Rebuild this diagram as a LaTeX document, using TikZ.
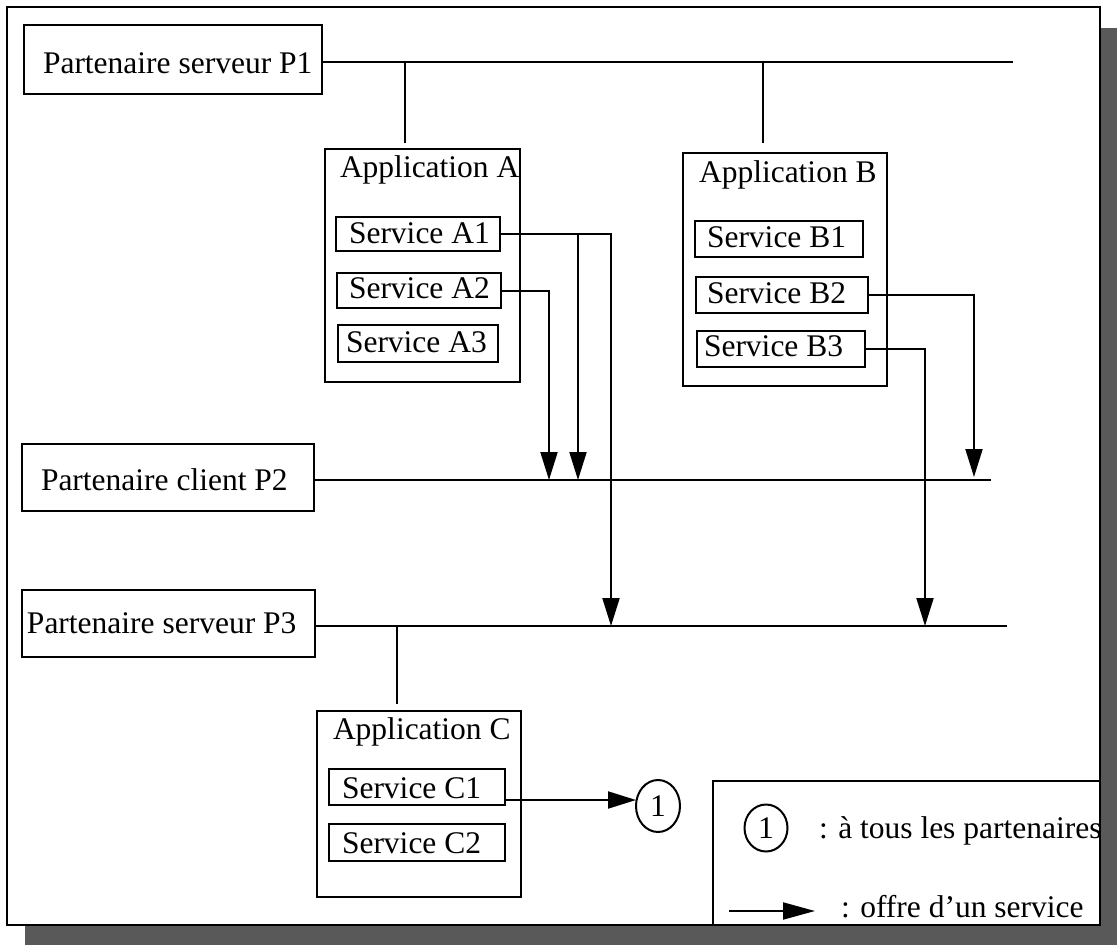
\documentclass[tikz,border=0pt]{standalone}
\usepackage{fontspec}
\setmainfont{Liberation Serif}
\usetikzlibrary{arrows.meta,shapes.geometric}
\begin{document}
\begin{tikzpicture}[x=1pt,y=-1pt,
  line width=2pt,
  box/.style={draw, rectangle, inner sep=0pt, outer sep=0pt, anchor=north west},
  txt/.style={anchor=base west, inner sep=0pt, font=\fontsize{31.5}{36}\selectfont},
  offer/.style={-{Triangle[length=28pt,width=17pt]}},
  ball/.style={draw, ellipse, inner sep=0pt, outer sep=0pt, font=\fontsize{31.5}{36}\selectfont}]
\useasboundingbox (0,0) rectangle (1117,945);

% drop shadow and sheet
\fill[black!65] (1100,28) rectangle (1117,945);
\fill[black!65] (25,925) rectangle (1117,945);
\draw[fill=white] (7,7) rectangle (1100,925);

% partners
\node[box, minimum width=298pt, minimum height=69pt] (p1) at (24,25) {};
\node[txt] (p1t) at (42,73) {Partenaire serveur P1};
\node[box, minimum width=292pt, minimum height=67pt] (p2) at (22,444) {};
\node[txt] (p2t) at (40,490) {Partenaire client P2};
\node[box, minimum width=293pt, minimum height=67pt] (p3) at (22,590) {};
\node[txt] (p3t) at (26,633) {Partenaire serveur P3};

% applications
\node[box, minimum width=195pt, minimum height=233pt] (appA) at (325,149) {};
\node[txt] (appAt) at (339,177) {Application A};
\node[box, minimum width=204pt, minimum height=233pt] (appB) at (683,153) {};
\node[txt] (appBt) at (698,182) {Application B};
\node[box, minimum width=204pt, minimum height=186pt] (appC) at (317,711) {};
\node[txt] (appCt) at (332,739) {Application C};

% services
\node[box, minimum width=164pt, minimum height=34pt] (a1) at (336,217) {};
\node[txt] (a1t) at (348,243) {Service A1};
\node[box, minimum width=164pt, minimum height=35pt] (a2) at (337,273) {};
\node[txt] (a2t) at (348,298) {Service A2};
\node[box, minimum width=160pt, minimum height=37pt] (a3) at (338,325) {};
\node[txt] (a3t) at (345,352) {Service A3};

\node[box, minimum width=168pt, minimum height=36pt] (b1) at (695,221) {};
\node[txt] (b1t) at (706,247) {Service B1};
\node[box, minimum width=172pt, minimum height=36pt] (b2) at (696,277) {};
\node[txt] (b2t) at (706,303) {Service B2};
\node[box, minimum width=168pt, minimum height=36pt] (b3) at (697,331) {};
\node[txt] (b3t) at (703,356) {Service B3};

\node[box, minimum width=176pt, minimum height=36pt] (c1) at (329,769) {};
\node[txt] (c1t) at (341,798) {Service C1};
\node[box, minimum width=176pt, minimum height=37pt] (c2) at (329,824) {};
\node[txt] (c2t) at (341,853) {Service C2};

% buses
\coordinate (p1end) at (1013,62);
\coordinate (p2end) at (991,480);
\coordinate (p3end) at (1007,626);
\draw (p1.east |- p1end) -- (p1end);
\draw (p2.east |- p2end) -- (p2end);
\draw (p3.east |- p3end) -- (p3end);

% taps from buses to applications
\coordinate (tapA) at (405,62);
\coordinate (tapB) at (763,62);
\coordinate (tapC) at (397,626);
\draw (tapA) -- ([yshift=6pt]appA.north -| tapA);
\draw (tapB) -- ([yshift=10pt]appB.north -| tapB);
\draw (tapC) -- ([yshift=7pt]appC.north -| tapC);

% service offers
\coordinate (dA1) at (611,626);
\coordinate (dA1b) at (578,480);
\coordinate (dA2) at (549,480);
\coordinate (dB2) at (974,477);
\coordinate (dB3) at (925,626);
\draw[offer] (a1.east) -| (dA1);
\draw[offer] (a1.east -| dA1b) -- (dA1b);
\draw[offer] (a2.east) -| (dA2);
\draw[offer] (b2.east) -| (dB2);
\draw[offer] (b3.east) -| (dB3);

\node[ball, minimum width=44pt, minimum height=52pt] (one) at (658,806) {1};
\draw[offer] ([yshift=-13pt]c1.east) -- ([yshift=-13pt]c1.east -| one.west);

% legend
\node[box, minimum width=387pt, minimum height=144pt] (legend) at (713,781) {};
\node[ball, minimum width=43pt, minimum height=47pt] (lone) at (766,828) {1};
\node[txt] (lonet) at (818,838) {: à tous les partenaires};
\coordinate (lgA) at (729,911);
\coordinate (lgB) at (815,911);
\draw[-{Triangle[length=32pt,width=17pt]}] (lgA) -- (lgB);
\node[txt] (lgt) at (840,917) {: offre d’un service};
\end{tikzpicture}
\end{document}
